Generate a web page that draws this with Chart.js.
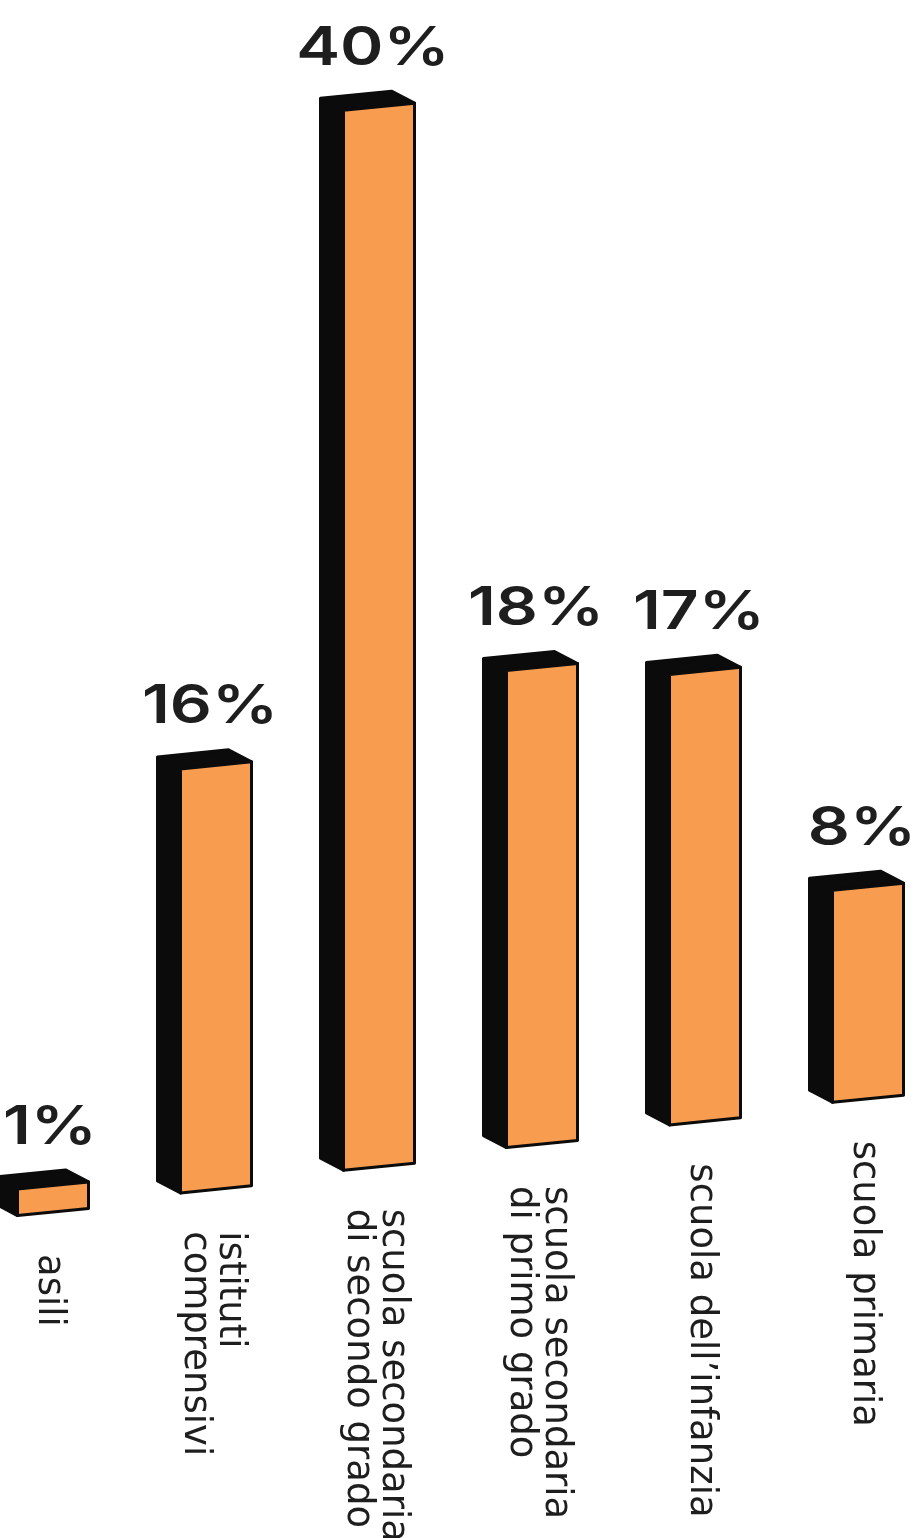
<!DOCTYPE html>
<html>
<head>
<meta charset="utf-8">
<script src="https://cdn.jsdelivr.net/npm/chart.js@4"></script>
<style>
  body { margin: 0; background: #ffffff; }
  canvas { display: block; }
</style>
</head>
<body>
<canvas id="Graph" width="916" height="1538"></canvas>
<script>
let canvas = document.getElementById("Graph");
let ctx = canvas.getContext("2d");

// categories (split in lines as in the picture) and values in %
const categories = [
  ['asili'],
  ['istituti', 'comprensivi'],
  ['scuola secondaria', 'di secondo grado'],
  ['scuola secondaria', 'di primo grado'],
  ['scuola dell\u2019infanzia'],
  ['scuola primaria']
];
const values = [1, 16, 40, 18, 17, 8];

const ORANGE = '#F89C50';
const DARK = '#0b0b0b';
const TEXT = '#1e1e1e';

// perspective: baseline climbs to the right, faces slant a bit less
const baseSlope = -0.139;
const faceSlope = -0.10;
const depthX = -23, depthY = -12;

const bars3d = {
  id: 'bars3d',
  afterDatasetsDraw(chart) {
    const c = chart.ctx;
    const meta = chart.getDatasetMeta(0);
    const xref = chart.chartArea.left;

    meta.data.forEach((bar, i) => {
      const cx = bar.x;
      const hw = bar.width / 2;
      const lift = baseSlope * (cx - xref);
      const P = (x, y) => [x, y + lift + faceSlope * (x - cx)];

      const A = P(cx - hw, bar.y), B = P(cx + hw, bar.y);
      const C = P(cx + hw, bar.base), D = P(cx - hw, bar.base);
      const back = p => [p[0] + depthX, p[1] + depthY];
      const A2 = back(A), B2 = back(B), D2 = back(D);

      c.save();
      c.lineJoin = 'round';
      c.strokeStyle = DARK;
      c.lineWidth = 3;

      // side + top faces
      c.fillStyle = DARK;
      c.beginPath();
      c.moveTo(...D); c.lineTo(...D2); c.lineTo(...A2); c.lineTo(...B2);
      c.lineTo(...B); c.lineTo(...A); c.closePath();
      c.fill(); c.stroke();

      // front face
      c.fillStyle = ORANGE;
      c.beginPath();
      c.moveTo(...A); c.lineTo(...B); c.lineTo(...C); c.lineTo(...D); c.closePath();
      c.fill(); c.stroke();
      c.restore();

      // value label (stretched a bit to look like the wide geometric face)
      const topMid = P(cx, bar.y);
      c.save();
      c.fillStyle = TEXT;
      c.font = '600 54px Inter';
      c.textAlign = 'center';
      c.textBaseline = 'alphabetic';
      c.translate(Math.max(cx - 6, 50), topMid[1] - 42);
      c.scale(1.22, 1);
      c.fillText(values[i] + '%', 0, 0);
      c.restore();

      // category label, rotated to read top-down
      const baseMid = P(cx, bar.base);
      const lines = categories[i];
      const lh = 35;
      c.save();
      c.fillStyle = TEXT;
      c.font = '37px "DejaVu Sans"';
      c.textAlign = 'left';
      c.textBaseline = 'middle';
      c.translate(cx - 4, baseMid[1] + 42);
      c.rotate(Math.PI / 2);
      lines.forEach((ln, j) => {
        c.fillText(ln, 0, (j - (lines.length - 1) / 2) * lh);
      });
      c.restore();
    });
  }
};

const data = {
  labels: categories,
  datasets: [{
    data: values,
    backgroundColor: 'rgba(0,0,0,0)',
    borderWidth: 0,
    barThickness: 71
  }]
};

const config = {
  type: 'bar',
  data: data,
  options: {
    responsive: false,
    animation: false,
    layout: {
      padding: { top: 152, bottom: 326, left: 53, right: 48 }
    },
    plugins: {
      legend: { display: false },
      tooltip: { enabled: false }
    },
    scales: {
      x: { display: false, offset: false },
      y: { display: false, min: 0, max: 40 }
    }
  },
  plugins: [bars3d]
};

const chart = new Chart(canvas, config);
</script>
</body>
</html>
